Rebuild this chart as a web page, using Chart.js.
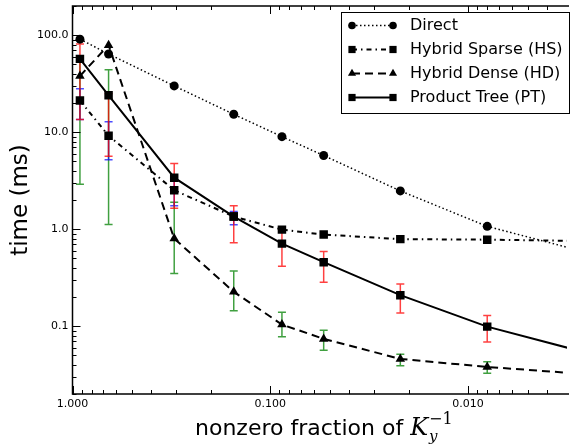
<!DOCTYPE html>
<html>
<head>
<meta charset="utf-8">
<script src="https://cdn.jsdelivr.net/npm/chart.js@4.4.1/dist/chart.umd.min.js"></script>
<style>
html, body { margin: 0; padding: 0; background: #fff; }
</style>
</head>
<body>
<canvas id="myChart" width="573" height="444"></canvas>
<script>
// nonzero fraction (x) for each run; the last one sits past the right edge
const fractions = [0.917, 0.657, 0.306, 0.153, 0.0873, 0.0537, 0.022, 0.008, 0.002];

const directTime = [91, 64, 30, 15.3, 9.0, 5.75, 2.48, 1.07, 0.51];
const sparseTime = [21.2, 9.2, 2.52, 1.35, 0.99, 0.88, 0.79, 0.78, 0.75];
const denseTime = [38, 79, 0.80, 0.226, 0.104, 0.074, 0.046, 0.038, 0.031];
const treeTime = [57, 24, 3.4, 1.35, 0.71, 0.457, 0.209, 0.099, 0.047];

// error ranges [low, high], null = no bar
const sparseErr = [[13.5, 28], [5.2, 12.8], [1.75, 3.2], [1.11, 1.52], null, null, null, null, null];
const denseErr = [[2.9, 60], [1.12, 44], [0.35, 1.9], [0.144, 0.37], [0.078, 0.139], [0.0565, 0.091], [0.039, 0.0514], [0.0327, 0.043], null];
const treeErr = [[13.5, 81], [5.65, 25], [1.64, 4.76], [0.726, 1.75], [0.416, 0.98], [0.284, 0.59], [0.137, 0.273], [0.0687, 0.1286], null];

const seriesNames = ["Direct", "Hybrid Sparse (HS)", "Hybrid Dense (HD)", "Product Tree (PT)"];
const xMajor = [0.01, 0.1, 1];
const yMajor = [0.1, 1, 10, 100];

const FONT = "DejaVu Sans";

function pts(ys) {
    return fractions.map((x, i) => ({ x: x, y: ys[i] }));
}

function logTicks(min, max) {
    const out = [];
    for (let e = Math.floor(Math.log10(min)); e <= Math.ceil(Math.log10(max)); e++) {
        for (let m = 1; m < 10; m++) {
            const v = m * Math.pow(10, e);
            if (v >= min * 0.999 && v <= max * 1.001) out.push({ v: v, major: m === 1 });
        }
    }
    return out;
}

const errorBars = {
    id: "errorBars",
    beforeDatasetsDraw(chart) {
        const ctx = chart.ctx;
        const xs = chart.scales.x, ys = chart.scales.y;
        const a = chart.chartArea;
        ctx.save();
        ctx.beginPath();
        ctx.rect(a.left, a.top, a.right - a.left, a.bottom - a.top);
        ctx.clip();
        const sets = [
            [denseErr, "rgba(0, 128, 0, 0.75)"],
            [sparseErr, "rgba(0, 0, 255, 0.7)"],
            [treeErr, "rgba(255, 0, 0, 0.75)"],
        ];
        sets.forEach(([errs, color]) => {
            ctx.strokeStyle = color;
            ctx.lineWidth = 1.5;
            errs.forEach((e, i) => {
                if (!e) return;
                const x = xs.getPixelForValue(fractions[i]);
                const y0 = ys.getPixelForValue(e[0]);
                const y1 = ys.getPixelForValue(e[1]);
                ctx.beginPath();
                ctx.moveTo(x, y0); ctx.lineTo(x, y1);
                ctx.moveTo(x - 4, y0); ctx.lineTo(x + 4, y0);
                ctx.moveTo(x - 4, y1); ctx.lineTo(x + 4, y1);
                ctx.stroke();
            });
        });
        ctx.restore();
    },
};

const frameAndText = {
    id: "frameAndText",
    afterDraw(chart) {
        const ctx = chart.ctx;
        const a = chart.chartArea;
        const xs = chart.scales.x, ys = chart.scales.y;
        ctx.save();

        // inward ticks
        ctx.strokeStyle = "#000";
        ctx.lineWidth = 1;
        ctx.beginPath();
        logTicks(ys.min, ys.max).forEach(t => {
            const y = Math.round(ys.getPixelForValue(t.v)) + 0.5;
            const len = t.major ? 8 : 4;
            ctx.moveTo(a.left, y); ctx.lineTo(a.left + len, y);
        });
        logTicks(xs.min, xs.max).forEach(t => {
            const x = Math.round(xs.getPixelForValue(t.v)) + 0.5;
            const len = t.major ? 8 : 4;
            ctx.moveTo(x, a.top); ctx.lineTo(x, a.top + len);
            ctx.moveTo(x, a.bottom); ctx.lineTo(x, a.bottom - len);
        });
        ctx.stroke();

        // frame (right side is cut off)
        ctx.lineWidth = 1.5;
        ctx.beginPath();
        ctx.moveTo(a.right + 2, a.top); ctx.lineTo(a.left, a.top);
        ctx.lineTo(a.left, a.bottom); ctx.lineTo(a.right + 2, a.bottom);
        ctx.stroke();

        // axis titles
        ctx.fillStyle = "#000";
        ctx.font = "22px '" + FONT + "'";
        ctx.textBaseline = "alphabetic";
        ctx.textAlign = "left";
        const base = 435;
        let x = 195;
        const lead = "nonzero fraction of ";
        ctx.fillText(lead, x, base);
        x += ctx.measureText(lead).width;
        ctx.font = "italic 24px 'DejaVu Serif'";
        ctx.fillText("K", x, base);
        x += ctx.measureText("K").width + 1;
        ctx.font = "italic 15px 'DejaVu Serif'";
        ctx.fillText("y", x, base + 6);
        ctx.font = "16px 'DejaVu Serif'";
        ctx.fillText("\u22121", x, base - 11);

        ctx.save();
        ctx.translate(27, (a.top + a.bottom) / 2);
        ctx.rotate(-Math.PI / 2);
        ctx.textAlign = "center";
        ctx.font = "23px '" + FONT + "'";
        ctx.fillText("time (ms)", 0, 0);
        ctx.restore();

        // legend
        const lx = 341.5, ly = 12.5, lw = 228, lh = 101;
        ctx.fillStyle = "#fff";
        ctx.fillRect(lx, ly, lw, lh);
        ctx.strokeStyle = "#000";
        ctx.lineWidth = 1;
        ctx.strokeRect(lx, ly, lw, lh);
        chart.data.datasets.forEach((ds, i) => {
            const y = 25.5 + 24 * i;
            ctx.strokeStyle = "#000";
            ctx.lineWidth = ds.borderWidth;
            ctx.setLineDash(ds.borderDash || []);
            ctx.beginPath();
            ctx.moveTo(352, y); ctx.lineTo(393, y);
            ctx.stroke();
            ctx.setLineDash([]);
            ctx.fillStyle = "#000";
            [352, 393].forEach(px => {
                Chart.helpers.drawPoint(ctx, { pointStyle: ds.pointStyle, rotation: 0, radius: ds.pointRadius * 0.85, borderWidth: 0 }, px, y);
            });
            ctx.fillStyle = "#000";
            ctx.font = "16px '" + FONT + "'";
            ctx.textAlign = "left";
            ctx.textBaseline = "middle";
            ctx.fillText(ds.label, 410, y);
        });
        ctx.restore();
    },
};

const ctx1 = document.getElementById("myChart").getContext("2d");

const lineStyle = (label, data, dash, width, style, radius) => ({
    label: label,
    data: pts(data),
    borderColor: "#000",
    backgroundColor: "#000",
    borderWidth: width,
    borderDash: dash,
    pointStyle: style,
    pointRadius: radius,
    pointBackgroundColor: "#000",
    pointBorderColor: "#000",
    pointBorderWidth: 0,
    tension: 0,
    fill: false,
});

const myChart = new Chart(ctx1, {
    type: "line",
    data: {
        datasets: [
            lineStyle(seriesNames[0], directTime, [1.5, 2.5], 1.5, "circle", 4.5),
            lineStyle(seriesNames[1], sparseTime, [5, 4, 1.5, 4], 2, "rect", 6),
            lineStyle(seriesNames[2], denseTime, [8, 5], 2, "triangle", 5.5),
            lineStyle(seriesNames[3], treeTime, [], 2, "rect", 6),
        ],
    },
    options: {
        responsive: false,
        animation: false,
        layout: { padding: { top: 4, right: 0, left: 0, bottom: 0 } },
        plugins: {
            legend: { display: false },
            tooltip: { enabled: false },
        },
        scales: {
            x: {
                type: "logarithmic",
                reverse: true,
                min: 0.00316,
                max: 1,
                grid: { display: false, drawTicks: false },
                border: { display: false },
                ticks: {
                    color: "#000",
                    font: { family: FONT, size: 11 },
                    padding: 4,
                    maxRotation: 0,
                    autoSkip: false,
                    callback: (value) => Number(value).toFixed(3),
                },
                afterBuildTicks: (s) => { s.ticks = xMajor.map(v => ({ value: v })); },
                afterFit: (s) => { s.height = 50; s.paddingLeft = 0; s.paddingRight = 0; },
            },
            y: {
                type: "logarithmic",
                min: 0.02,
                max: 200,
                grid: { display: false, drawTicks: false },
                border: { display: false },
                ticks: {
                    color: "#000",
                    font: { family: FONT, size: 11 },
                    padding: 4,
                    autoSkip: false,
                    callback: (value) => Number(value).toFixed(1),
                },
                afterBuildTicks: (s) => { s.ticks = yMajor.map(v => ({ value: v })); },
                afterFit: (s) => { s.width = 72.5; s.paddingTop = 0; s.paddingBottom = 0; },
            },
        },
    },
    plugins: [errorBars, frameAndText],
});
</script>
</body>
</html>
